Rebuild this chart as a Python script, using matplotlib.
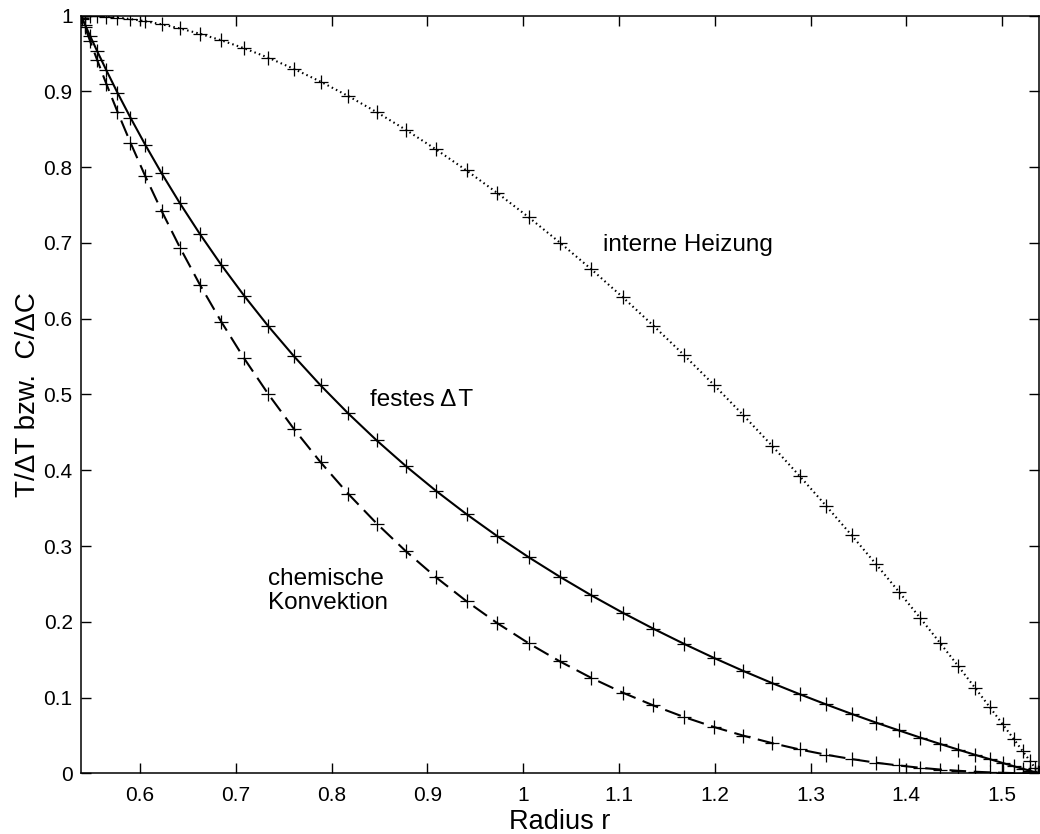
import matplotlib
matplotlib.use("Agg")
import matplotlib.pyplot as plt

plt.rcParams['font.family'] = ['Liberation Sans', 'DejaVu Sans']
plt.rcParams['lines.scale_dashes'] = False

# Radius (collocation points)
radius = [1.53846, 1.53739, 1.53418, 1.52885, 1.52142, 1.51193, 1.50040, 1.48690,
          1.47147, 1.45420, 1.43514, 1.41438, 1.39201, 1.36813, 1.34284, 1.31625,
          1.28846, 1.25960, 1.22980, 1.19918, 1.16787, 1.13601, 1.10372, 1.07116,
          1.03846, 1.00576, 0.97320, 0.94091, 0.90905, 0.87774, 0.84712, 0.81732,
          0.78846, 0.76067, 0.73408, 0.70879, 0.68491, 0.66254, 0.64178, 0.62272,
          0.60545, 0.59002, 0.57652, 0.56499, 0.55550, 0.54807, 0.54274, 0.53953,
          0.53846]

# festes Delta T (solid)
festes_dT = [0.0000, 0.0004, 0.0015, 0.0034, 0.0060, 0.0094, 0.0137, 0.0187,
             0.0245, 0.0312, 0.0388, 0.0472, 0.0567, 0.0670, 0.0784, 0.0909,
             0.1045, 0.1192, 0.1351, 0.1523, 0.1709, 0.1908, 0.2121, 0.2349,
             0.2593, 0.2852, 0.3128, 0.3420, 0.3728, 0.4053, 0.4394, 0.4751,
             0.5122, 0.5506, 0.5900, 0.6303, 0.6710, 0.7119, 0.7523, 0.7918,
             0.8298, 0.8656, 0.8984, 0.9278, 0.9528, 0.9730, 0.9879, 0.9969,
             1.0000]

# chemische Konvektion (dashed)
chem_konv = [0.0000, 0.0000, 0.0000, 0.0000, 0.0001, 0.0003, 0.0007, 0.0012,
             0.0021, 0.0033, 0.0050, 0.0073, 0.0103, 0.0140, 0.0188, 0.0245,
             0.0315, 0.0399, 0.0497, 0.0611, 0.0743, 0.0895, 0.1066, 0.1259,
             0.1476, 0.1716, 0.1980, 0.2271, 0.2587, 0.2929, 0.3297, 0.3690,
             0.4107, 0.4546, 0.5003, 0.5476, 0.5960, 0.6450, 0.6939, 0.7420,
             0.7885, 0.8326, 0.8733, 0.9098, 0.9410, 0.9662, 0.9848, 0.9962,
             1.0000]

# interne Heizung (dotted)
interne_heiz = [0.0000, 0.0019, 0.0074, 0.0166, 0.0293, 0.0455, 0.0650, 0.0876,
                0.1132, 0.1414, 0.1721, 0.2051, 0.2399, 0.2764, 0.3142, 0.3530,
                0.3926, 0.4326, 0.4727, 0.5126, 0.5521, 0.5908, 0.6287, 0.6653,
                0.7004, 0.7340, 0.7658, 0.7957, 0.8235, 0.8492, 0.8727, 0.8940,
                0.9130, 0.9298, 0.9445, 0.9570, 0.9675, 0.9762, 0.9832, 0.9886,
                0.9927, 0.9956, 0.9976, 0.9988, 0.9995, 0.9998, 1.0000, 1.0000,
                1.0000]

xticks = [0.6, 0.7, 0.8, 0.9, 1.0, 1.1, 1.2, 1.3, 1.4, 1.5]
xticklabels = ['0.6', '0.7', '0.8', '0.9', '1', '1.1', '1.2', '1.3', '1.4', '1.5']
yticks = [0, 0.1, 0.2, 0.3, 0.4, 0.5, 0.6, 0.7, 0.8, 0.9, 1.0]
yticklabels = ['0', '0.1', '0.2', '0.3', '0.4', '0.5', '0.6', '0.7', '0.8', '0.9', '1']

fig = plt.figure(figsize=(10.4, 8.34), dpi=100)
ax = fig.add_axes([81/1040, (834-773.3)/834, 958/1040, 757.6/834])

mk = dict(marker='+', markersize=9.5, markeredgewidth=0.9, color='black')
ax.plot(radius, festes_dT, linestyle='-', linewidth=1.5, **mk)
ax.plot(radius, chem_konv, linestyle=(0, (12, 5.5)), linewidth=1.5, **mk)
ax.plot(radius, interne_heiz, linestyle=(0, (1.1, 2.3)), linewidth=1.5, **mk)

ax.set_xlim(0.53846, 1.53846)
ax.set_ylim(0, 1)
ax.set_xticks(xticks)
ax.set_xticklabels(xticklabels)
ax.set_yticks(yticks)
ax.set_yticklabels(yticklabels)
ax.tick_params(direction='in', length=7, width=1, top=True, right=True,
               labelsize=15, colors='black')
ax.tick_params(axis='x', pad=9)
ax.tick_params(axis='y', pad=6)
for s in ax.spines.values():
    s.set_linewidth(1.1)

ax.set_xlabel('Radius r', fontsize=19.5, labelpad=3)
ax.set_ylabel('T/\u0394T bzw.  C/\u0394C', fontsize=20, labelpad=2)

ax.text(1.083, 0.697, 'interne Heizung', fontsize=17.5, va='center', ha='left')
ax.text(0.840, 0.493, 'festes \u0394\u200aT', fontsize=17.5, va='center', ha='left')
ax.text(0.7337, 0.2406, 'chemische\nKonvektion', fontsize=17.5, va='center',
        ha='left', linespacing=1.15)

fig.savefig('out.png', dpi=100)
